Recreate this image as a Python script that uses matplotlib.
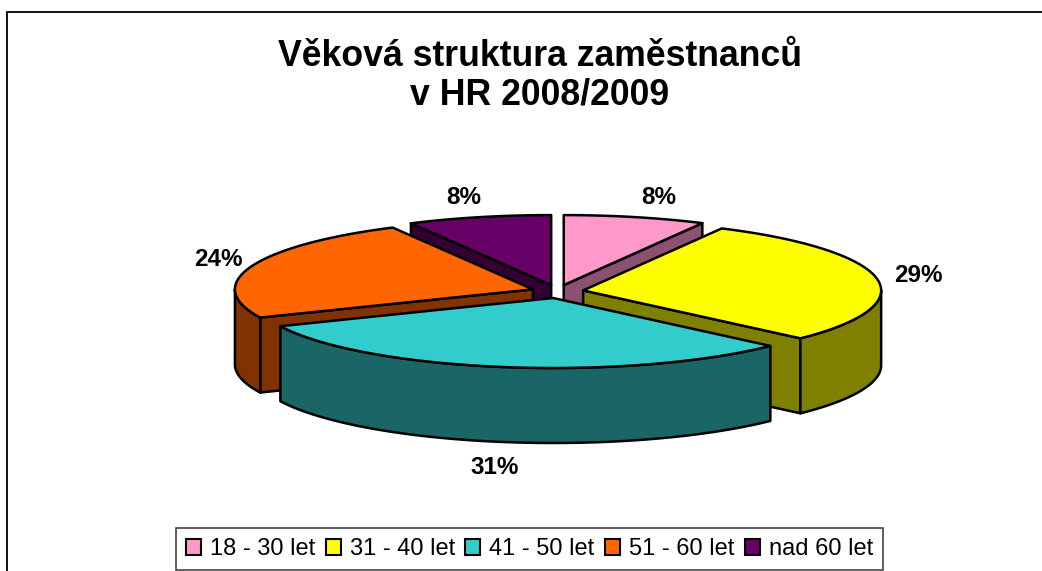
import numpy as np
import matplotlib
matplotlib.use("Agg")
import matplotlib.pyplot as plt
from matplotlib.patches import Polygon, Patch

categories = ["18 - 30 let", "31 - 40 let", "41 - 50 let", "51 - 60 let", "nad 60 let"]
values = [7.7, 29.3, 31.4, 23.8, 7.8]
colors = ["#FF99CC", "#FFFF00", "#33CCCC", "#FF6600", "#660066"]
wall_colors = ["#8C5070", "#808000", "#1A6666", "#803300", "#330033"]
label_xy = [(659, 198), (918, 276), (495, 468), (218, 260), (464, 198)]
title = "Věková struktura zaměstnanců\nv HR 2008/2009"

plt.rcParams["font.family"] = ["Liberation Sans", "DejaVu Sans"]
W, H = 1042, 571
fig = plt.figure(figsize=(W / 100, H / 100), dpi=100)
ax = fig.add_axes([0, 0, 1, 1])
ax.set_xlim(0, W)
ax.set_ylim(H, 0)
ax.axis("off")

CX, CY, RX, RY, DEPTH = 557.5, 291.5, 298, 70, 75
EX, EY = 26, 6.6
LW = 1.8


def arc(cx, cy, a1, a2, n=80):
    t = np.radians(np.linspace(a1, a2, n))
    return np.c_[cx + RX * np.sin(t), cy - RY * np.cos(t)]


def draw_slice(a1, a2, col, wall):
    mid = np.radians((a1 + a2) / 2)
    cx = CX + EX * np.sin(mid)
    cy = CY - EY * np.cos(mid)
    tip = np.array([cx, cy])
    down = np.array([0, DEPTH])
    style = dict(edgecolor="black", linewidth=LW, joinstyle="round")
    for a, vis in ((a1, np.sin(np.radians(a1)) < 0), (a2, np.sin(np.radians(a2)) > 0)):
        if vis:
            p = arc(cx, cy, a, a, 1)[0]
            ax.add_patch(Polygon([tip, p, p + down, tip + down], facecolor=wall, **style))
    lo, hi = max(a1, 90), min(a2, 270)
    if lo < hi:
        top = arc(cx, cy, lo, hi)
        ax.add_patch(Polygon(np.r_[top, (top + down)[::-1]], facecolor=wall, **style))
    ax.add_patch(Polygon(np.r_[[tip], arc(cx, cy, a1, a2)], facecolor=col, **style))


edges = np.r_[0, np.cumsum(values)] / sum(values) * 360
mids = (edges[:-1] + edges[1:]) / 2
for i in sorted(range(len(values)), key=lambda k: -np.cos(np.radians(mids[k]))):
    draw_slice(edges[i], edges[i + 1], colors[i], wall_colors[i])

for v, (x, y) in zip(values, label_xy):
    ax.text(x, y, f"{v / sum(values) * 100:.0f}%", ha="center", va="center",
            fontsize=17.5, fontweight="bold")

# chart area border: left and top only, the rest is cut off by the image
ax.plot([7, 7, W], [H, 12, 12], color="black", lw=1.3, solid_joinstyle="miter")

ax.text(540, 76, title, ha="center", va="center", fontsize=25.7, fontweight="bold",
        linespacing=1.13)

handles = [Patch(facecolor=c, edgecolor="black", linewidth=1.5) for c in colors]
leg = ax.legend(handles, categories, ncol=5, loc="center", bbox_to_anchor=(529.5, 549),
                bbox_transform=ax.transData, fontsize=17, frameon=True, fancybox=False,
                edgecolor="#444444", framealpha=1, columnspacing=0.44, handlelength=0.64,
                handleheight=0.64, handletextpad=0.38, borderpad=0.42, borderaxespad=0)
leg.get_frame().set_linewidth(1.2)

fig.savefig("out.png", dpi=100)
